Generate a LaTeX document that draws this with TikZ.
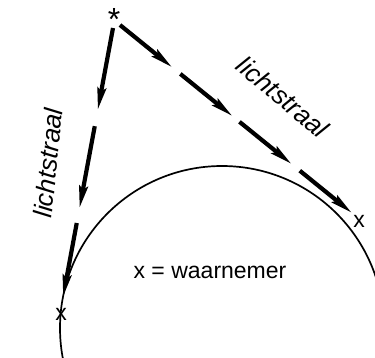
\documentclass[tikz,border=0pt]{standalone}
\usepackage{fontspec}
\setmainfont{Liberation Sans}
\usetikzlibrary{arrows.meta,calc}

\begin{document}
\begin{tikzpicture}[
    x=1pt, y=-1pt,
    font=\fontsize{23}{26}\selectfont,
    ray/.style={-{Stealth[length=22pt,width=8.5pt,inset=3pt]}, line width=4.2pt},
    raytext/.style={font=\fontsize{26}{28}\selectfont\itshape, inner sep=0pt},
    tag/.style={inner sep=0pt}
]
\useasboundingbox (0,0) rectangle (375,358);
\clip (0,0) rectangle (375,358);

\node[tag, font=\fontsize{32}{34}\selectfont, anchor=north] (star) at (114,8) {*};
\node[tag] (obs1) at (61,314) {x};
\node[tag] (obs2) at (359,221) {x};
\node (eye) at (210,272) {x = waarnemer};

% light rays
\coordinate (l0) at (113,28);
\coordinate (l1) at (63,297);
\coordinate (r0) at (120,25);
\coordinate (r1) at (352,213);

\foreach \a/\b in {0/0.305, 0.365/0.67, 0.725/1}
  \draw[ray] ($(l0)!\a!(l1)$) -- ($(l0)!\b!(l1)$);
\foreach \a/\b in {0/0.225, 0.26/0.485, 0.515/0.74, 0.775/1}
  \draw[ray] ($(r0)!\a!(r1)$) -- ($(r0)!\b!(r1)$);

\draw[line width=1.7pt] (222,328) circle[radius=162pt];

\node[raytext, rotate=84] (txt1) at (48,163) {lichtstraal};
\node[raytext, rotate=-40] (txt2) at (283,97) {lichtstraal};

\end{tikzpicture}
\end{document}
